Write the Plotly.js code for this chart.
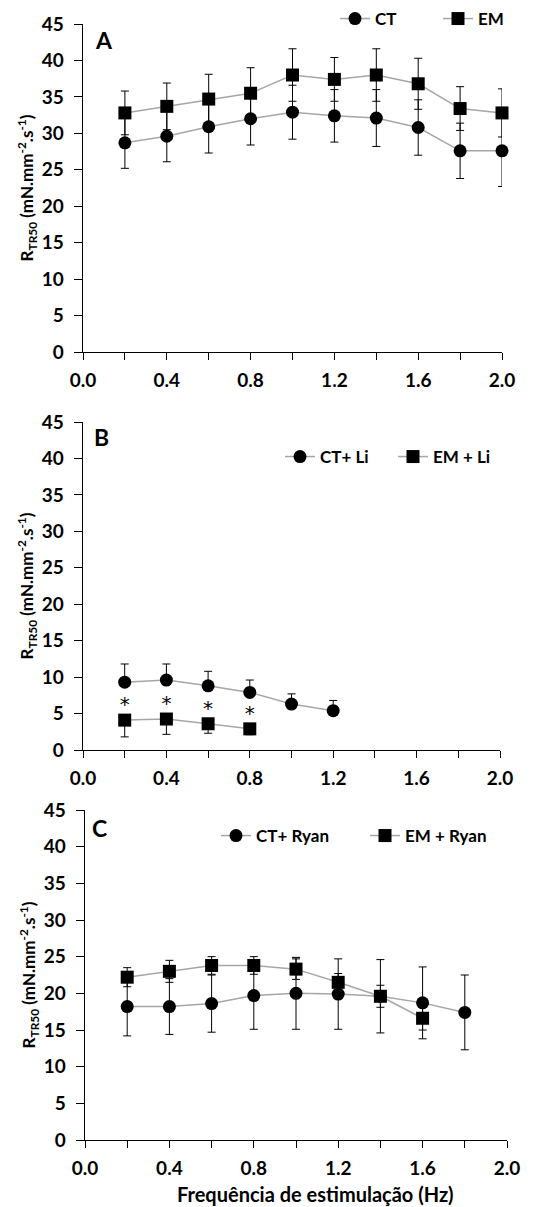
<!DOCTYPE html>
<html>
<head>
<meta charset="utf-8">
<script src="https://cdn.plot.ly/plotly-3.0.1.min.js"></script>
<style>html,body{margin:0;padding:0;background:#fff;}#chart{width:534px;height:1207px;}</style>
</head>
<body>
<div id="chart"></div>
<script>
// Panel A
const freqA = [0.2, 0.4, 0.6, 0.8, 1.0, 1.2, 1.4, 1.6, 1.8, 2.0];
const ctA = [28.7, 29.6, 30.9, 32.0, 32.9, 32.4, 32.1, 30.8, 27.6, 27.6];
const ctAErr = [3.5, 3.5, 3.6, 3.6, 3.7, 3.6, 3.9, 3.8, 3.8, 4.9];
const emA = [32.8, 33.7, 34.7, 35.5, 38.0, 37.4, 38.0, 36.8, 33.4, 32.8];
const emAErr = [3.0, 3.2, 3.4, 3.5, 3.6, 3.0, 3.6, 3.5, 3.0, 3.3];
// Panel B
const freqBct = [0.2, 0.4, 0.6, 0.8, 1.0, 1.2];
const ctB = [9.3, 9.6, 8.8, 7.9, 6.3, 5.4];
const ctBErr = [2.5, 2.2, 2.0, 1.7, 1.4, 1.4];
const freqBem = [0.2, 0.4, 0.6, 0.8];
const emB = [4.1, 4.25, 3.6, 2.9];
const emBErr = [2.3, 2.1, 1.3, 0.8];
const sigB = ['*', '*', '*', '*'];
// Panel C
const freqCct = [0.2, 0.4, 0.6, 0.8, 1.0, 1.2, 1.4, 1.6, 1.8];
const ctC = [18.2, 18.2, 18.6, 19.7, 20.0, 19.9, 19.6, 18.7, 17.4];
const ctCErr = [4.0, 3.8, 3.9, 4.6, 4.9, 4.8, 5.0, 4.9, 5.1];
const freqCem = [0.2, 0.4, 0.6, 0.8, 1.0, 1.2, 1.4, 1.6];
const emC = [22.2, 23.0, 23.8, 23.8, 23.3, 21.5, 19.6, 16.6];
const emCErr = [1.3, 1.5, 1.2, 1.2, 1.4, 1.2, 1.5, 1.6];
// Axis ticks and texts
const xTickVals = [0, 0.4, 0.8, 1.2, 1.6, 2.0];
const xTickText = ['0.0', '0.4', '0.8', '1.2', '1.6', '2.0'];
const yTickVals = [0, 5, 10, 15, 20, 25, 30, 35, 40, 45];
const legendNames = ['CT', 'EM', 'CT+ Li', 'EM + Li', 'CT+ Ryan', 'EM + Ryan'];
const panelLabels = ['A', 'B', 'C'];
const yTitle = 'R<sub>TR50</sub> (mN.mm<sup>-2</sup>.s<sup>-1</sup>)';
const xTitle = 'Frequência de estimulação (Hz)';

const FONT = 'Lato, "Open Sans", sans-serif';
const lineColor = '#a6a6a6';

function series(x, y, err, name, sym, xa, ya, leg, errMode) {
  const e = {type: 'data', color: '#000', thickness: 1, width: 4, visible: true};
  if (errMode === 'plus') { e.symmetric = false; e.array = err; e.arrayminus = err.map(() => 0); }
  else if (errMode === 'minus') { e.symmetric = false; e.array = err.map(() => 0); e.arrayminus = err; }
  else { e.array = err; }
  return {
    type: 'scatter', mode: 'lines+markers', x: x, y: y, name: name,
    xaxis: xa, yaxis: ya, legend: leg,
    line: {color: lineColor, width: 1.5},
    marker: {color: '#000', symbol: sym, size: 13},
    error_y: e, cliponaxis: false
  };
}

const traces = [
  series(freqA, ctA, ctAErr, legendNames[0], 'circle', 'x', 'y', 'legend'),
  series(freqA, emA, emAErr, legendNames[1], 'square', 'x', 'y', 'legend'),
  series(freqBct, ctB, ctBErr, legendNames[2], 'circle', 'x2', 'y2', 'legend2', 'plus'),
  series(freqBem, emB, emBErr, legendNames[3], 'square', 'x2', 'y2', 'legend2', 'minus'),
  {
    type: 'scatter', mode: 'text', x: freqBem, y: emB.map(v => v + 1.9), text: sigB,
    textposition: 'middle center', xaxis: 'x2', yaxis: 'y2', showlegend: false,
    textfont: {family: '"DejaVu Sans", sans-serif', size: 20, color: '#000'}, hoverinfo: 'skip'
  },
  series(freqCct, ctC, ctCErr, legendNames[4], 'circle', 'x3', 'y3', 'legend3'),
  series(freqCem, emC, emCErr, legendNames[5], 'square', 'x3', 'y3', 'legend3')
];

const W = 534, H = 1207;
function xAxis(x0, x1, anchor) {
  return {
    domain: [x0 / W, x1 / W], range: [0, 2], anchor: anchor,
    tickmode: 'array', tickvals: xTickVals, ticktext: xTickText,
    ticks: 'outside', ticklen: 7, tickwidth: 1, tickcolor: '#000',
    minor: {dtick: 0.2, tick0: 0, ticks: 'outside', ticklen: 7, tickwidth: 1, tickcolor: '#000', showgrid: false},
    showline: true, linecolor: '#000', linewidth: 1.3, showgrid: false, zeroline: false,
    tickfont: {family: FONT, size: 19, color: '#000', weight: 'bold'},
    ticklabelstandoff: 4, automargin: false
  };
}
function yAxis(top, bottom, anchor) {
  return {
    domain: [1 - bottom / H, 1 - top / H], range: [0, 45], anchor: anchor,
    tickmode: 'array', tickvals: yTickVals,
    ticks: 'outside', ticklen: 8, tickwidth: 1, tickcolor: '#000',
    showline: true, linecolor: '#000', linewidth: 1.3, showgrid: false, zeroline: false,
    tickfont: {family: FONT, size: 19, color: '#000', weight: 'bold'},
    ticklabelstandoff: 6, automargin: false,
    title: {text: yTitle, font: {family: FONT, size: 17, color: '#000', weight: 'bold'}}
  };
}
function legend(x, y, ew) {
  return {
    orientation: 'h', x: x / W, y: 1 - y / H, xanchor: 'left', yanchor: 'middle',
    xref: 'paper', yref: 'paper', bgcolor: 'rgba(0,0,0,0)',
    font: {family: FONT, size: 17, color: '#000', weight: 'bold'},
    itemwidth: 30, entrywidth: ew, entrywidthmode: 'pixels'
  };
}

const layout = {
  width: W, height: H,
  margin: {l: 0, r: 0, t: 0, b: 0, autoexpand: false},
  paper_bgcolor: '#fff', plot_bgcolor: '#fff',
  showlegend: true,
  xaxis: xAxis(83, 502, 'y'),
  yaxis: yAxis(24, 352, 'x'),
  xaxis2: xAxis(83, 500, 'y2'),
  yaxis2: yAxis(422, 750, 'x2'),
  xaxis3: xAxis(85, 507, 'y3'),
  yaxis3: yAxis(810, 1140, 'x3'),
  legend: legend(335, 19, 58),
  legend2: legend(280, 457, 68),
  legend3: legend(216, 836, 104),
  annotations: [
    {text: panelLabels[0], x: 93 / W, y: 1 - 24 / H},
    {text: panelLabels[1], x: 92 / W, y: 1 - 421 / H},
    {text: panelLabels[2], x: 90 / W, y: 1 - 812 / H}
  ].map(a => Object.assign(a, {
    xref: 'paper', yref: 'paper', xanchor: 'left', yanchor: 'top', showarrow: false,
    font: {family: FONT, size: 23, color: '#000', weight: 'bold'}
  })).concat([{
    text: xTitle, x: 315 / W, y: 1 - 1194 / H, xref: 'paper', yref: 'paper',
    xanchor: 'center', yanchor: 'middle', showarrow: false,
    font: {family: FONT, size: 20, color: '#000', weight: 'bold'}
  }])
};

Plotly.newPlot('chart', traces, layout, {staticPlot: true, displayModeBar: false});
</script>
</body>
</html>
